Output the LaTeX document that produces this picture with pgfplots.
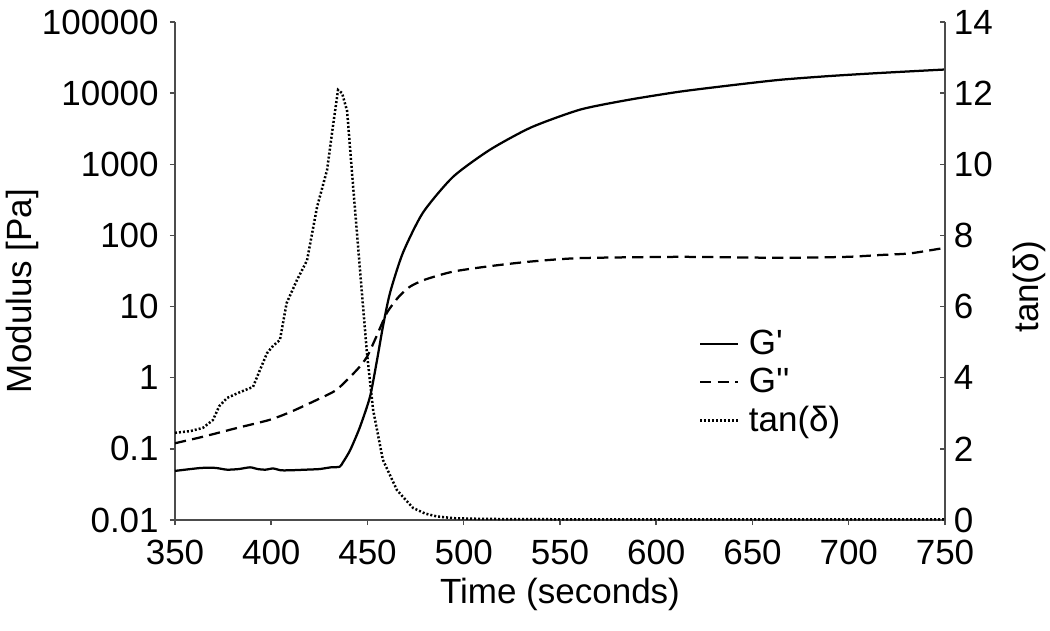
\documentclass[border=0pt]{standalone}
\usepackage{pgfplots}
\pgfplotsset{compat=1.18}
\usepackage{fontspec}
\setmainfont{Liberation Sans}
\setmonofont{Liberation Sans}
\newcommand\sq{{\ttfamily\char"27}}

\begin{document}
\begin{tikzpicture}[font=\fontsize{14}{16}\selectfont]
\path[use as bounding box] (-70pt,-44pt) rectangle (350pt,208pt);

\begin{axis}[
    scale only axis, width=308pt, height=199.2pt,
    xmin=350, xmax=750, ymode=log, ymin=0.01, ymax=100000,
    axis x line*=bottom, axis y line*=left,
    axis line style={line width=0.8pt, black!70},
    xtick={350,400,...,750},
    ytick={0.01,0.1,1,10,100,1000,10000,100000},
    yticklabels={0.01,0.1,1,10,100,1000,10000,100000},
    yminorticks=false,
    tick align=outside, major tick length=2pt,
    tick style={black!70, line width=0.6pt},
    xticklabel style={yshift=-2.4pt},
    yticklabel style={xshift=-1pt},
    /pgf/number format/assume math mode=true,
    xlabel={Time (seconds)}, ylabel={Modulus [Pa]},
    xlabel style={at={(rel axis cs:0.5,-0.15)}, anchor=center},
    ylabel style={at={(rel axis cs:-0.198,0.46)}, anchor=center},
    legend style={at={(rel axis cs:0.67,0.398)}, anchor=north west,
        draw=none, fill=none, row sep=2pt,
        nodes={inner xsep=4pt, inner ysep=1pt}},
    legend cell align=left,
    legend image code/.code={\draw[#1] (0pt,0pt) -- (15pt,0pt);},
]
% G'
\addplot[black, line width=0.9pt, smooth, tension=0.4] coordinates {
    (350,0.049) (358,0.052) (364,0.054) (371,0.054) (377,0.051) (383,0.052)
    (389,0.055) (393,0.052) (397,0.051) (401,0.053) (405,0.050) (410,0.050)
    (418,0.051) (425,0.052) (431,0.055) (435.5,0.056) (437.3,0.065)
    (441,0.096) (446,0.2) (451.3,0.54) (455,1.8) (458,5.2) (461.7,15.6)
    (468.4,57) (478.8,209) (494.4,665) (513.6,1600) (535,3300) (560.4,5860)
    (585,8000) (612.3,10500) (640,13000) (664.3,15400) (690,17400)
    (716,19200) (750,21500)
};
\addlegendentry{G\sq}
% G''
\addplot[black, line width=0.9pt, dash pattern=on 4.5pt off 2.5pt, smooth, tension=0.4] coordinates {
    (350,0.12) (364.5,0.148) (382,0.196) (399,0.255) (410,0.33) (423.8,0.49)
    (434,0.68) (444.5,1.29) (449.7,1.96) (455,4) (460,8.1) (466,13.5) (472,19)
    (480,24) (494.4,31) (513.6,37) (535,43) (560.4,48) (612.3,50) (664.3,48.5)
    (699,50) (716,53) (732,56) (750,67)
};
\addlegendentry{G\sq\sq}
\addlegendimage{black, line width=1pt, dash pattern=on 0.8pt off 0.8pt}
\addlegendentry{tan(δ)}
\end{axis}

\begin{axis}[
    scale only axis, width=308pt, height=199.2pt,
    xmin=350, xmax=750, ymin=0, ymax=14,
    axis x line=none, axis y line*=right,
    axis line style={line width=0.8pt, black!70},
    ytick={0,2,...,14},
    tick align=inside, major tick length=2pt,
    tick style={black!70, line width=0.6pt},
    /pgf/number format/assume math mode=true,
    ylabel={tan(δ)},
    ylabel style={at={(rel axis cs:1.110,0.468)}, anchor=center},
]
% tan(delta)
\addplot[black, line width=1pt, dash pattern=on 0.8pt off 0.8pt] coordinates {
    (350,2.45) (358,2.5) (364.5,2.59) (369.7,2.81) (373,3.2) (377,3.43)
    (384,3.6) (390.5,3.74) (394,4.2) (397.8,4.69) (401,4.9) (404.5,5.06)
    (408,6.1) (413.4,6.75) (418.6,7.3) (423.8,8.8) (429,9.84) (432,11.05)
    (434.7,12.09) (436.8,12.0) (439.4,11.5) (442.5,9.4) (446,7.1) (449.7,4.7)
    (452.9,3.1) (458,1.69) (465.3,0.84) (473.6,0.34) (480,0.18) (486,0.1)
    (495,0.05) (510,0.03) (550,0.02) (750,0.02)
};
\end{axis}
\end{tikzpicture}
\end{document}
